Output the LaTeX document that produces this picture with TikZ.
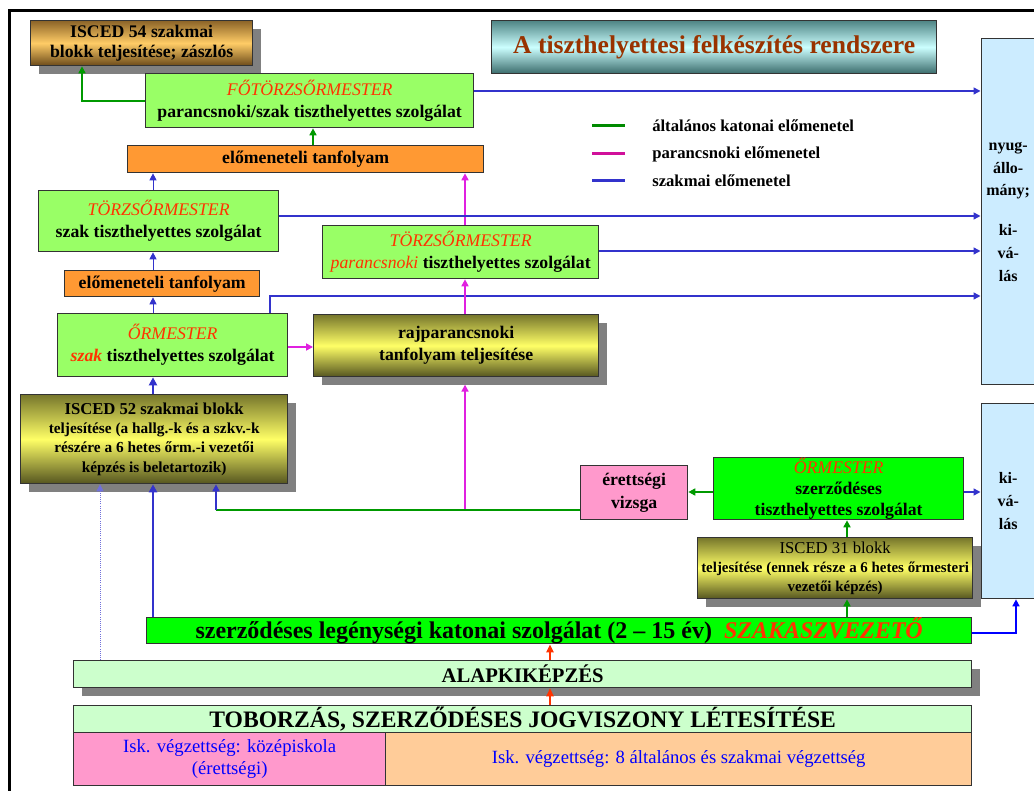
\documentclass[tikz,border=0pt]{standalone}
\usepackage{fontspec}
\setmainfont{Liberation Serif}
\usetikzlibrary{arrows.meta,shadows}
\definecolor{lgreen}{HTML}{99FF66}
\definecolor{bgreen}{HTML}{00FF00}
\definecolor{orng}{HTML}{FF9933}
\definecolor{pnk}{HTML}{FF99CC}
\definecolor{peach}{HTML}{FFCC99}
\definecolor{lblue}{HTML}{CCECFF}
\definecolor{pgreen}{HTML}{CCFFCC}
\definecolor{shgray}{HTML}{808080}
\definecolor{hred}{HTML}{FF3300}
\definecolor{ttl}{HTML}{993300}
\definecolor{lnblue}{HTML}{3333CC}
\definecolor{lngreen}{HTML}{009900}
\definecolor{lnmag}{HTML}{E020E0}
\definecolor{lgmag}{HTML}{D0109A}
\definecolor{pblue}{HTML}{0000FF}
\definecolor{brTop}{HTML}{8C6428}
\definecolor{brMid}{HTML}{FFCC66}
\definecolor{brBot}{HTML}{6B4A1A}
\definecolor{olTop}{HTML}{77772C}
\definecolor{olMid}{HTML}{FFFF66}
\definecolor{olBot}{HTML}{555520}
\definecolor{tlTop}{HTML}{4F8585}
\definecolor{tlMid}{HTML}{CCFFFF}
\definecolor{tlBot}{HTML}{3A6B6B}
\newcommand\redit[1]{{\color{hred}\mdseries\itshape #1}}
\newcommand\redbi[1]{{\color{hred}\bfseries\itshape #1}}
\begin{document}
\begin{tikzpicture}[x=0.75pt,y=-0.75pt,
  bx/.style={draw=black!80, line width=1pt, anchor=north west, inner sep=0pt, align=center,
     font=\fontsize{13.3}{16.5}\selectfont\bfseries},
  sz/.style 2 args={minimum width=#1*0.75pt, minimum height=#2*0.75pt},
  shd/.style={drop shadow={shadow xshift=6pt, shadow yshift=-6pt, fill=shgray, opacity=1, draw=none}},
  olive/.style={top color=olTop, bottom color=olBot, middle color=olMid},
  tip/.style={-{Triangle[length=5.2pt,width=5.2pt]}},
  blu/.style={draw=lnblue, line width=1.1pt, tip},
  thinblu/.style={draw=lnblue, line width=0.75pt, tip},
  thkblu/.style={draw=lnblue, line width=1.9pt, -{Triangle[length=6pt,width=6pt]}},
  dotblu/.style={draw=lnblue!70, line width=0.6pt, densely dotted, tip},
  pblu/.style={draw=pblue, line width=1.1pt, tip},
  grn/.style={draw=lngreen, line width=1.5pt, tip},
  mag/.style={draw=lnmag, line width=1.65pt, tip},
  redarr/.style={draw=hred, line width=1.1pt, -{Triangle[length=6pt,width=5.5pt]}},
  legline/.style={line width=2.25pt},
  legtext/.style={anchor=west, inner sep=0pt, font=\fontsize{12.5}{14}\selectfont\bfseries}
]
\useasboundingbox (0,0) rectangle (1034,791);
\clip (0,0) rectangle (1034,791);
\fill[white] (0,0) rectangle (1034,791);
% frame
\draw[line width=2.25pt] (9.5,800) -- (9.5,10.5) -- (1040,10.5);

% boxes
\node[bx, shd, top color=brTop, bottom color=brBot, middle color=brMid,
  sz={222}{45}, font=\fontsize{13.3}{15}\selectfont\bfseries]
  (isced54) at (30,20) {ISCED 54 szakmai\\blokk teljesítése; zászlós};
\node[bx, top color=tlTop, bottom color=tlBot, middle color=tlMid,
  sz={445}{53}, text=ttl, font=\fontsize{19.2}{22}\selectfont\bfseries]
  (title) at (491,20) {A tiszthelyettesi felkészítés rendszere};
\node[bx, fill=lgreen, sz={328}{54}]
  (foto) at (145,73) {\redit{FŐTÖRZSŐRMESTER}\\parancsnoki/szak tiszthelyettes szolgálat};
\node[bx, fill=orng, sz={356}{27}]
  (elom1) at (127,145) {előmeneteli tanfolyam};
\node[bx, fill=lgreen, sz={240}{61}]
  (torzsszak) at (38,190) {\redit{TÖRZSŐRMESTER}\\szak tiszthelyettes szolgálat};
\node[bx, fill=lgreen, sz={276}{53}]
  (torzspar) at (322,225) {\redit{TÖRZSŐRMESTER}\\\redit{parancsnoki} tiszthelyettes szolgálat};
\node[bx, fill=orng, sz={195}{26}]
  (elom2) at (64,270) {előmeneteli tanfolyam};
\node[bx, fill=lgreen, sz={230}{63}]
  (ormszak) at (57,313) {\redit{ŐRMESTER}\\\redbi{szak} tiszthelyettes szolgálat};
\node[bx, shd, olive, sz={285}{62}]
  (raj) at (313,314) {rajparancsnoki\\tanfolyam teljesítése};
\node[bx, shd, olive, sz={267}{89}, font=\fontsize{12.5}{14.5}\selectfont\bfseries]
  (isced52) at (20,394) {ISCED 52 szakmai blokk\\\fontsize{11.5}{14.5}\selectfont teljesítése (a hallg.-k és a szkv.-k\\\fontsize{11.5}{14.5}\selectfont részére a 6 hetes őrm.-i vezetői\\\fontsize{11.5}{14.5}\selectfont képzés is beletartozik)};
\node[bx, fill=pnk, sz={107}{54}, font=\fontsize{13.3}{17}\selectfont\bfseries]
  (erett) at (580,465) {érettségi\\vizsga};
\node[bx, fill=bgreen, sz={250}{62}, font=\fontsize{13.3}{15.5}\selectfont\bfseries]
  (ormszerz) at (713,457) {\redit{ŐRMESTER}\\szerződéses\\tiszthelyettes szolgálat};
\node[bx, shd, olive, sz={275}{61}, font=\fontsize{11.2}{14.5}\selectfont\bfseries]
  (isced31) at (697,537) {\fontsize{12.5}{14.5}\selectfont\mdseries ISCED 31 blokk\\teljesítése (ennek része a 6 hetes őrmesteri\\vezetői képzés)};
\node[bx, fill=lblue, sz={54}{346}, font=\fontsize{12}{17}\selectfont\bfseries]
  (kiv1) at (980.5,38) {nyug-\\állo-\\mány;\\[13pt]ki-\\vá-\\lás};
\node[bx, fill=lblue, sz={54}{195}, font=\fontsize{12}{17}\selectfont\bfseries]
  (kiv2) at (980.5,403) {ki-\\vá-\\lás};
\node[bx, fill=bgreen, sz={825}{26}, font=\fontsize{18}{20}\selectfont\bfseries]
  (szerzleg) at (146,617) {szerződéses legénységi katonai szolgálat (2 – 15 év)\enspace\redbi{SZAKASZVEZETŐ}};
\node[bx, shd, fill=pgreen, sz={898}{27}, font=\fontsize{15.5}{18}\selectfont\bfseries]
  (alap) at (73,660) {ALAPKIKÉPZÉS};
\node[bx, fill=pgreen, sz={898}{27}, font=\fontsize{17.7}{20}\selectfont\bfseries]
  (tobor) at (73,705) {TOBORZÁS, SZERZŐDÉSES JOGVISZONY LÉTESÍTÉSE};
\node[bx, fill=pnk, sz={312}{53}, text=pblue, font=\fontsize{14}{17}\selectfont]
  (isk1) at (73,732) {Isk. végzettség: középiskola\\(érettségi)};
\node[bx, fill=peach, sz={586}{53}, text=pblue, font=\fontsize{14}{17}\selectfont]
  (isk2) at (385,732) {Isk. végzettség: 8 általános és szakmai végzettség};

% legend
\draw[legline, draw=lngreen!90!black] (592,126) -- (625,126);
\draw[legline, draw=lgmag] (592,154) -- (625,154);
\draw[legline, draw=lnblue] (592,181) -- (625,181);
\node[legtext] (lg1) at (652,126) {általános katonai előmenetel};
\node[legtext] (lg2) at (652,154) {parancsnoki előmenetel};
\node[legtext] (lg3) at (652,181) {szakmai előmenetel};

% helper coordinates
\coordinate (X82) at (82,0);
\coordinate (X100) at (100,0);
\coordinate (X153) at (153,0);
\coordinate (X216) at (216,0);
\coordinate (X270) at (270,0);
\coordinate (X313) at (313,0);
\coordinate (X465) at (465,0);
\coordinate (X550) at (550,0);
\coordinate (X847) at (847,0);
\coordinate (X1016) at (1016,0);
\coordinate (Y91) at (0,91);
\coordinate (Y216) at (0,216);
\coordinate (Y251) at (0,251);
\coordinate (Y296) at (0,296);
\coordinate (Y347) at (0,347);
\coordinate (Y492) at (0,492);
\coordinate (Y510) at (0,510);
\coordinate (Y633) at (0,633);
\coordinate (rajsh) at ([yshift=-5.5pt]raj.south);
\coordinate (G216) at (X216 |- Y510);

% connectors
\draw[grn] (foto.west) -| (X82 |- isced54.south);
\draw[grn] (X313 |- elom1.north) -- (X313 |- foto.south);
\draw[thinblu] (X153 |- torzsszak.north) -- (X153 |- elom1.south);
\draw[mag] (X465 |- torzspar.north) -- (X465 |- elom1.south);
\draw[blu] (foto.east |- Y91) -- (kiv1.west |- Y91);
\draw[blu] (torzsszak.east |- Y216) -- (kiv1.west |- Y216);
\draw[blu] (torzspar.east |- Y251) -- (kiv1.west |- Y251);
\draw[blu] (X270 |- ormszak.north) |- (kiv1.west |- Y296);
\draw[thinblu] (X153 |- elom2.north) -- (X153 |- torzsszak.south);
\draw[thinblu] (X153 |- ormszak.north) -- (X153 |- elom2.south);
\draw[mag] (ormszak.east |- Y347) -- (raj.west |- Y347);
\draw[mag] (X465 |- raj.north) -- (X465 |- torzspar.south);
\draw[thkblu] (X153 |- isced52.north) -- (X153 |- ormszak.south);
\draw[mag] (X465 |- Y510) -- (X465 |- rajsh);
\draw[draw=lngreen, line width=1.5pt] (erett.west |- Y510) -- (G216);
\draw[blu, line width=1.5pt] (G216) -- (X216 |- isced52.south);
\draw[grn] (ormszerz.west |- Y492) -- (erett.east |- Y492);
\draw[grn] (X847 |- isced31.north) -- (X847 |- ormszerz.south);
\draw[grn] (X847 |- szerzleg.north) -- (X847 |- isced31.south);
\draw[blu] (ormszerz.east |- Y492) -- (kiv2.west |- Y492);
\draw[pblu] (szerzleg.east |- Y633) -| (X1016 |- kiv2.south);
\draw[thkblu] (X153 |- szerzleg.north) -- (X153 |- isced52.south);
\draw[dotblu] (X100 |- alap.north) -- (X100 |- isced52.south);
\draw[redarr] (X550 |- alap.north) -- (X550 |- szerzleg.south);
\draw[redarr] (X550 |- tobor.north) -- (X550 |- alap.south);
\end{tikzpicture}
\end{document}
